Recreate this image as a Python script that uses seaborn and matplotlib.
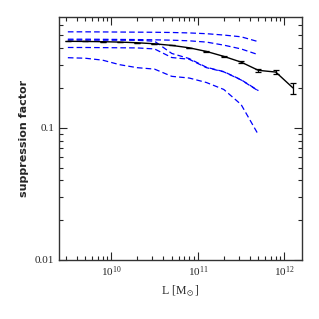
import numpy as np
import pandas as pd
import matplotlib
matplotlib.use('Agg')
import matplotlib.pyplot as plt
import matplotlib.ticker as mticker
import seaborn as sns

sns.set_style('ticks')
plt.rcParams['font.family'] = ['Liberation Serif', 'DejaVu Serif']
plt.rcParams['mathtext.fontset'] = 'stix'

# log10 of L, sampled every 0.2 dex
logL_blue = [9.5, 9.7, 9.9, 10.1, 10.3, 10.5, 10.7, 10.9, 11.1, 11.3, 11.5, 11.7]
logL_black = logL_blue + [11.9, 12.1]

# blue dashed curves
blueA = [0.532, 0.532, 0.531, 0.530, 0.529, 0.528, 0.526, 0.522, 0.515, 0.503, 0.488, 0.448]
blueB = [0.468, 0.468, 0.467, 0.466, 0.465, 0.463, 0.460, 0.455, 0.445, 0.422, 0.395, 0.357]
blueC = [0.461, 0.461, 0.460, 0.460, 0.459, 0.452, 0.365, 0.334, 0.287, 0.266, 0.231, 0.191]
blueD = [0.405, 0.405, 0.404, 0.403, 0.402, 0.395, 0.340, 0.330, 0.285, 0.265, 0.230, 0.190]
blueE = [0.339, 0.336, 0.325, 0.300, 0.285, 0.278, 0.245, 0.238, 0.220, 0.195, 0.150, 0.0885]

# black curve with errors
black = [0.451, 0.450, 0.448, 0.445, 0.440, 0.432, 0.420, 0.403, 0.378, 0.347, 0.314, 0.272, 0.264, 0.200]
black_err = [0, 0, 0, 0, 0, 0, 0, 0, 0.003, 0.004, 0.005, 0.006, 0.009, 0.019]

fig = plt.figure(figsize=(3.19, 3.19), dpi=100)
ax = fig.add_axes([0.185, 0.185, 0.762, 0.762])

for name, vals in [('A', blueA), ('B', blueB), ('C', blueC), ('D', blueD), ('E', blueE)]:
    df = pd.DataFrame({'L': 10 ** np.array(logL_blue), 'f': vals})
    sns.lineplot(data=df, x='L', y='f', ax=ax, color='blue', lw=0.9,
                 dashes=False, linestyle=(0, (4.5, 2.5)))

dfb = pd.DataFrame({'L': 10 ** np.array(logL_black), 'f': black, 'e': black_err})
sns.lineplot(data=dfb, x='L', y='f', ax=ax, color='black', lw=1.0)
ax.errorbar(dfb['L'], dfb['f'], yerr=dfb['e'], fmt='none', ecolor='black',
            elinewidth=0.9, capsize=2, capthick=0.9)

ax.set_xscale('log')
ax.set_yscale('log')
ax.set_xlim(2.5e9, 1.6e12)
ax.set_ylim(0.01, 0.69)

ax.yaxis.set_major_locator(mticker.FixedLocator([0.01, 0.1]))
ax.yaxis.set_major_formatter(mticker.FixedFormatter(['0.01', '0.1']))
ax.yaxis.set_minor_locator(mticker.LogLocator(base=10, subs=np.arange(2, 10)))
ax.yaxis.set_minor_formatter(mticker.NullFormatter())
ax.xaxis.set_major_locator(mticker.LogLocator(base=10))
ax.xaxis.set_minor_locator(mticker.LogLocator(base=10, subs=np.arange(2, 10)))
ax.xaxis.set_minor_formatter(mticker.NullFormatter())

ax.tick_params(which='both', direction='in', top=True, right=True, labelsize=8, width=0.8)
ax.tick_params(which='major', length=6)
ax.tick_params(which='minor', length=3)
for s in ax.spines.values():
    s.set_linewidth(1.0)
    s.set_color('#333333')

ax.set_xlabel(r'L [M$_\odot$]', fontsize=8.5, labelpad=3)
ax.set_ylabel('suppression factor', fontsize=8, fontweight='bold',
              family='DejaVu Sans', labelpad=4)

fig.savefig('out.png', dpi=100)
